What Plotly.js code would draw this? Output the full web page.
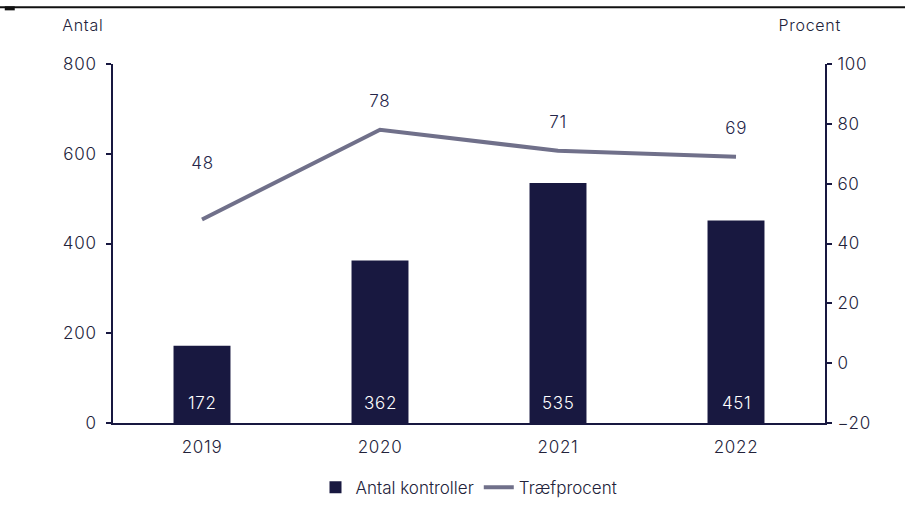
<!DOCTYPE html>
<html>
<head>
<meta charset="utf-8">
<script src="https://cdn.plot.ly/plotly-3.0.1.min.js"></script>
<style>html,body{margin:0;padding:0;background:#fff;}#chart{width:905px;height:520px;}
#chart .xtick text, #chart .ytick text, #chart .y2tick text, #chart .annotation-text{letter-spacing:0.7px;}</style>
</head>
<body>
<div id="chart"></div>
<script>
const years = ["2019", "2020", "2021", "2022"];
const antalKontroller = [172, 362, 535, 451];
const traefprocent = [48, 78, 71, 69];
const leftTicks = [0, 200, 400, 600, 800];
const rightTicks = [-20, 0, 20, 40, 60, 80, 100];

const navy = "#181840";
const grey = "#70708a";
const txt = "#22223a";
const fontFam = "Inter, 'Open Sans', sans-serif";
const fs = 17;

const bars = {
  type: "bar", x: years, y: antalKontroller, name: "Antal kontroller",
  marker: {color: navy}, width: 0.32, hoverinfo: "skip"
};
const line = {
  type: "scatter", mode: "lines", x: years, y: traefprocent, yaxis: "y2",
  name: "Træfprocent", line: {color: grey, width: 4}, hoverinfo: "skip"
};

const annotations = traefprocent.map((v, i) => ({
  x: i, y: v, xref: "x", yref: "y2", text: String(v), showarrow: false,
  yshift: i === 0 ? 57 : 29, font: {size: fs, color: "#26264a", family: fontFam, weight: 300}
}));
antalKontroller.forEach((v, i) => annotations.push({
  x: i, y: 0, xref: "x", yref: "y", text: String(v), showarrow: false,
  yanchor: "middle", yshift: 20, font: {size: fs, color: "#ffffff", family: fontFam, weight: 300}
}));
annotations.push({xref: "paper", yref: "paper", x: -0.042, y: 1.11, text: "Antal", showarrow: false,
  xanchor: "center", yanchor: "middle", font: {size: 16, color: txt, family: fontFam, weight: 300}});
annotations.push({xref: "paper", yref: "paper", x: 0.979, y: 1.11, text: "Procent", showarrow: false,
  xanchor: "center", yanchor: "middle", font: {size: 16, color: txt, family: fontFam, weight: 300}});

const tf = {size: fs, color: txt, family: fontFam, weight: 300};
const layout = {
  width: 905, height: 520,
  margin: {l: 113, r: 80, t: 64, b: 97},
  paper_bgcolor: "#fff", plot_bgcolor: "#fff",
  font: {family: fontFam, size: fs, color: txt},
  showlegend: true,
  legend: {orientation: "h", x: 0.5, xanchor: "center", y: -0.18, yanchor: "middle",
    font: {size: fs, color: txt, family: fontFam, weight: 300}, traceorder: "normal"},
  xaxis: {type: "category", range: [-0.5, 3.5], showgrid: false, showline: true, linecolor: navy, linewidth: 2,
    ticks: "", tickfont: tf, ticklabelstandoff: 8, zeroline: false, fixedrange: true},
  yaxis: {range: [0, 800], tickvals: leftTicks, showgrid: false, showline: true, linecolor: navy, linewidth: 2,
    ticks: "outside", ticklen: 5, tickwidth: 2, tickcolor: navy, tickfont: tf,
    ticklabelstandoff: 6, zeroline: false, fixedrange: true},
  yaxis2: {overlaying: "y", side: "right", range: [-20, 100], tickvals: rightTicks, showgrid: false,
    showline: true, linecolor: navy, linewidth: 2, ticks: "outside", ticklen: 5, tickwidth: 2, tickcolor: navy,
    tickfont: tf, ticklabelstandoff: 2, zeroline: false, fixedrange: true},
  annotations: annotations,
  shapes: [
    {type: "line", xref: "paper", yref: "paper", x0: -0.16, x1: 1.12, y0: 1.158, y1: 1.158,
      line: {color: "#111", width: 2}},
    {type: "line", xref: "paper", yref: "paper", x0: -0.152, x1: -0.138, y0: 1.155, y1: 1.155,
      line: {color: "#111", width: 4}}
  ]
};
Plotly.newPlot("chart", [bars, line], layout, {displayModeBar: false, staticPlot: true});
</script>
</body>
</html>
